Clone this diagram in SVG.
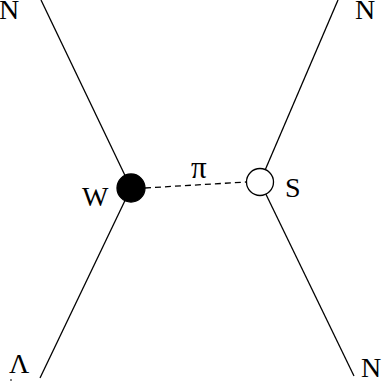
<svg xmlns="http://www.w3.org/2000/svg" width="385" height="387" viewBox="0 0 385 387">
<style>
.l{stroke:#000;stroke-width:1.3;fill:none}
.t{font-family:"Liberation Serif","Times New Roman",serif;font-size:28px;fill:#000}
</style>
<rect width="385" height="387" fill="#fff"/>
<g id="connectors">
<line class="l" x1="41" y1="0" x2="131" y2="188"/>
<line class="l" x1="131" y1="188" x2="40" y2="378"/>
<line class="l" x1="338" y1="0" x2="260" y2="182"/>
<line class="l" x1="260" y1="182" x2="354" y2="376"/>
<line class="l" x1="145" y1="188" x2="246" y2="182" stroke-dasharray="6,4"/>
</g>
<g id="W"><circle cx="131" cy="188" r="14" fill="#000" stroke="#000" stroke-width="1.3"/><text class="t" x="82" y="206">W</text></g>
<g id="S"><circle cx="260" cy="182" r="13.5" fill="#fff" stroke="#000" stroke-width="1.3"/><text class="t" x="285" y="197">S</text></g>
<g id="pi"><text class="t" x="191" y="178" style="font-size:31px">π</text></g>
<g id="N1"><text class="t" x="-1" y="19">N</text></g>
<g id="N2"><text class="t" x="355" y="19">N</text></g>
<g id="Lambda"><text class="t" x="9" y="373">Λ</text><rect x="10.5" y="379" width="1" height="2" fill="#000"/></g>
<g id="N3"><text class="t" x="361" y="377">N</text></g>
</svg>
